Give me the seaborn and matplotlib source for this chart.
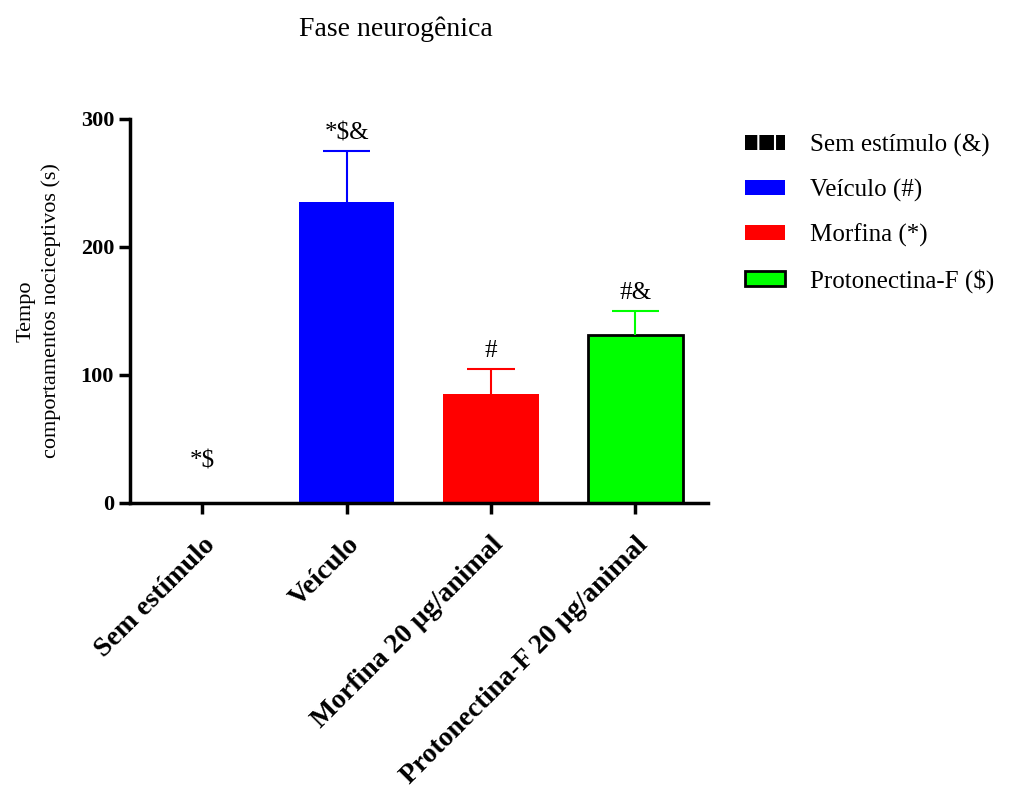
import matplotlib.pyplot as plt
import pandas as pd
import seaborn as sns
from matplotlib.patches import Patch

groups = ["Sem estímulo", "Veículo", "Morfina 20 μg/animal", "Protonectina-F 20 μg/animal"]
means = [0, 235, 85, 131]
sems = [0, 40, 20, 19]
marks = ["*$", "*$&", "#", "#&"]
legend_names = ["Sem estímulo (&)", "Veículo (#)", "Morfina (*)", "Protonectina-F ($)"]
colors = ["#000000", "#0000ff", "#ff0000", "#00ff00"]

df = pd.DataFrame({"grupo": groups, "tempo": means})

sns.set_style("ticks")
plt.rcParams["font.family"] = ["Liberation Serif", "DejaVu Serif"]
plt.rcParams["text.color"] = "black"
plt.rcParams["axes.labelcolor"] = "black"
plt.rcParams["xtick.color"] = "black"
plt.rcParams["ytick.color"] = "black"
plt.rcParams["axes.edgecolor"] = "black"
plt.rcParams["hatch.linewidth"] = 1.5

fig = plt.figure(figsize=(10.11, 7.93), dpi=100)
ax = fig.add_axes([0.1286, 0.3657, 0.5714, 0.4843])

sns.barplot(data=df, x="grupo", y="tempo", hue="grupo", palette=colors,
            errorbar=None, width=0.66, legend=False, ax=ax, saturation=1)

# borda preta so na barra da protonectina
for i, bar in enumerate(ax.patches):
    if i == 3:
        bar.set_edgecolor("black")
        bar.set_linewidth(2)
    else:
        bar.set_linewidth(0)

# barras de erro so para cima (sem cap embaixo)
cap = 0.165
for i in range(len(groups)):
    top = means[i] + sems[i]
    if sems[i] > 0:
        ax.vlines(i, means[i], top, color=colors[i], lw=1.5, zorder=1)
        ax.hlines(top, i - cap, i + cap, color=colors[i], lw=1.5, zorder=1)
    off = 22 if top == 0 else 5
    ax.annotate(marks[i], (i, top), xytext=(0, off), textcoords="offset points",
                ha="center", va="bottom", fontsize=18)

ax.set_xlim(-0.5, 3.5)
ax.set_ylim(0, 300)
ax.set_yticks([0, 100, 200, 300])
ax.set_xlabel("")
ax.set_ylabel("Tempo\ncomportamentos nociceptivos (s)", fontsize=16, labelpad=14,
              linespacing=1.4)
ax.set_title("Fase neurogênica", fontsize=20, pad=60, x=0.46)

sns.despine(ax=ax)
for s in ["left", "bottom"]:
    ax.spines[s].set_linewidth(2.5)
ax.tick_params(axis="both", width=2.5, length=8)
ax.tick_params(axis="y", labelsize=16)
ax.tick_params(axis="x", labelsize=20, pad=13)
for t in ax.get_yticklabels():
    t.set_fontweight("bold")
for t in ax.get_xticklabels():
    t.set_fontweight("bold")
    t.set_rotation(45)
    t.set_ha("right")
    t.set_rotation_mode("anchor")

handles = [
    Patch(facecolor="black", edgecolor="white", hatch="|", linewidth=0),
    Patch(facecolor=colors[1], linewidth=0),
    Patch(facecolor=colors[2], linewidth=0),
    Patch(facecolor=colors[3], edgecolor="black", linewidth=2),
]
fig.legend(handles, legend_names, loc="upper left", bbox_to_anchor=(0.715, 0.86),
           frameon=False, fontsize=18, handlelength=1.6, handleheight=0.55,
           labelspacing=0.88, handletextpad=1.0)

fig.savefig("out.png", dpi=100)
